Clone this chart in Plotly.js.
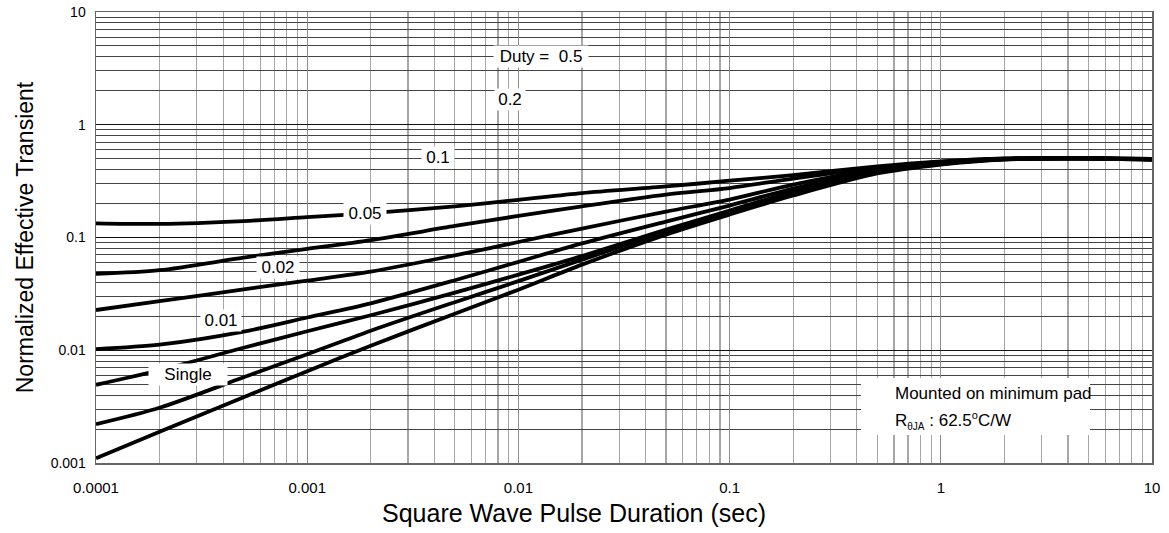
<!DOCTYPE html>
<html>
<head>
<meta charset="utf-8">
<script src="https://cdn.plot.ly/plotly-3.0.1.min.js"></script>
<style>html,body{margin:0;padding:0;background:#fff;}#chart{width:1169px;height:533px;}</style>
</head>
<body>
<div id="chart"></div>
<script>
// Pulse duration (sec)
const pulseSec = [1e-4, 2e-4, 5e-4, 1e-3, 2e-3, 5e-3, 1e-2, 2e-2, 5e-2, 0.1, 0.2, 0.5, 1, 2, 5, 10];
// Normalized effective transient thermal impedance, one array per curve (top to bottom)
const duty05  = [0.1337, 0.1320, 0.1398, 0.1518, 0.1647, 0.1892, 0.2158, 0.2479, 0.2837, 0.3189, 0.3582, 0.4263, 0.4721, 0.5020, 0.5072, 0.4969];
const duty02  = [0.0475, 0.0513, 0.0663, 0.0792, 0.0948, 0.1265, 0.1555, 0.1892, 0.2404, 0.2746, 0.3336, 0.4176, 0.4673, 0.4999, 0.5050, 0.4949];
const duty01  = [0.02275, 0.02723, 0.03467, 0.0415, 0.0498, 0.0695, 0.0912, 0.1200, 0.1698, 0.2171, 0.2950, 0.4050, 0.4625, 0.4989, 0.5039, 0.4939];
const duty005 = [0.01025, 0.01121, 0.01463, 0.01952, 0.02609, 0.04176, 0.06084, 0.08862, 0.1384, 0.1920, 0.2718, 0.3968, 0.4577, 0.4979, 0.5028, 0.4929];
const duty002 = [0.00494, 0.00665, 0.01052, 0.01475, 0.02045, 0.03242, 0.04683, 0.06836, 0.1175, 0.1734, 0.2556, 0.3848, 0.4530, 0.4958, 0.5020, 0.4919];
const duty001 = [0.00221, 0.00309, 0.00576, 0.00922, 0.0149, 0.02669, 0.0410, 0.06365, 0.1128, 0.1664, 0.2454, 0.3771, 0.4484, 0.4939, 0.5010, 0.4909];
const single  = [0.0011, 0.00189, 0.00383, 0.00651, 0.01097, 0.0211, 0.03446, 0.05744, 0.1061, 0.1598, 0.2356, 0.3694, 0.4439, 0.4919, 0.4999, 0.4899];

const seriesNames = ["0.5", "0.2", "0.1", "0.05", "0.02", "0.01", "Single"];
const seriesValues = [duty05, duty02, duty01, duty005, duty002, duty001, single];

// Axis tick labels
const xTickVals = [1e-4, 1e-3, 1e-2, 1e-1, 1, 10];
const xTickText = ["0.0001", "0.001", "0.01", "0.1", "1", "10"];
const yTickVals = [1e-3, 1e-2, 1e-1, 1, 10];
const yTickText = ["0.001", "0.01", "0.1", "1", "10"];

// Texts
const xTitle = "Square Wave Pulse Duration (sec)";
const yTitle = "Normalized Effective Transient";
const curveLabels = ["Duty =  0.5", "0.2", "0.1", "0.05", "0.02", "0.01", "Single"];
const noteLine1 = "Mounted on minimum pad";
const noteLine2 = "R<sub><span style=\"font-size:10px\">θJA</span></sub> : 62.5<sup><span style=\"font-size:11px\">o</span></sup>C/W";

const FONT = "Liberation Sans, Arial, sans-serif";

const traces = seriesValues.map((vals, i) => ({
  x: pulseSec,
  y: vals,
  name: seriesNames[i],
  type: "scatter",
  mode: "lines",
  line: {color: "#000", width: 3.8, shape: "spline", smoothing: 0.8},
  hoverinfo: "skip"
}));

// label placement (paper coords)
const labelPos = [
  [0.4214, 0.9013, 92],
  [0.3916, 0.8049, 28],
  [0.3234, 0.6774, 30],
  [0.2543, 0.5543, 40],
  [0.1719, 0.4335, 40],
  [0.1188, 0.3160, 38],
  [0.0871, 0.1962, 76]
];

const annotations = curveLabels.map((t, i) => ({
  text: t, xref: "paper", yref: "paper",
  x: labelPos[i][0], y: labelPos[i][1],
  xanchor: "center", yanchor: "middle",
  showarrow: false, bgcolor: "#fff", borderpad: 1,
  width: labelPos[i][2],
  font: {family: FONT, size: 17, color: "#000"}
}));
annotations.push({
  text: noteLine1, xref: "paper", yref: "paper", x: 0.7545, y: 0.153,
  xanchor: "left", yanchor: "middle", showarrow: false,
  font: {family: FONT, size: 17, color: "#000"}
});
annotations.push({
  text: noteLine2, xref: "paper", yref: "paper", x: 0.7545, y: 0.0953,
  xanchor: "left", yanchor: "middle", showarrow: false,
  font: {family: FONT, size: 17, color: "#000"}
});
// x axis title, placed as in the reference (left of the plot centre)
annotations.push({
  text: xTitle, xref: "paper", yref: "paper", x: 0.269, y: -0.111,
  xanchor: "left", yanchor: "middle", showarrow: false,
  font: {family: FONT, size: 25, color: "#000"}
});

const layout = {
  width: 1169, height: 533,
  margin: {l: 96, r: 17, t: 12, b: 70},
  paper_bgcolor: "#fff", plot_bgcolor: "#fff",
  showlegend: false,
  font: {family: FONT, color: "#000"},
  xaxis: {
    type: "log", range: [-4, 1],
    tickmode: "array", tickvals: xTickVals, ticktext: xTickText,
    ticks: "", ticklabelstandoff: 10,
    tickfont: {family: FONT, size: 15, color: "#000"},
    showgrid: true, gridcolor: "#8c8c8c", gridwidth: 1.2,
    minor: {dtick: "D1", showgrid: true, gridcolor: "#a6a6a6", gridwidth: 1.2, ticks: ""},
    showline: true, mirror: true, linecolor: "#666", linewidth: 1.5,
    zeroline: false
  },
  yaxis: {
    type: "log", range: [-3, 1],
    tickmode: "array", tickvals: yTickVals, ticktext: yTickText,
    ticks: "", ticklabelstandoff: 6,
    tickfont: {family: FONT, size: 14, color: "#000"},
    showgrid: true, gridcolor: "#111", gridwidth: 1.2,
    minor: {dtick: "D1", showgrid: true, gridcolor: "#444", gridwidth: 1, ticks: ""},
    showline: true, mirror: true, linecolor: "#666", linewidth: 1.5,
    zeroline: false,
    title: {text: yTitle, font: {family: FONT, size: 23, color: "#000"}, standoff: 10}
  },
  shapes: [{
    type: "rect", xref: "paper", yref: "paper",
    x0: 0.7244, x1: 0.9413, y0: 0.0621, y1: 0.1885,
    fillcolor: "#fff", line: {width: 0}, layer: "above"
  }],
  annotations: annotations
};

Plotly.newPlot("chart", traces, layout, {staticPlot: true, displayModeBar: false});
</script>
</body>
</html>
